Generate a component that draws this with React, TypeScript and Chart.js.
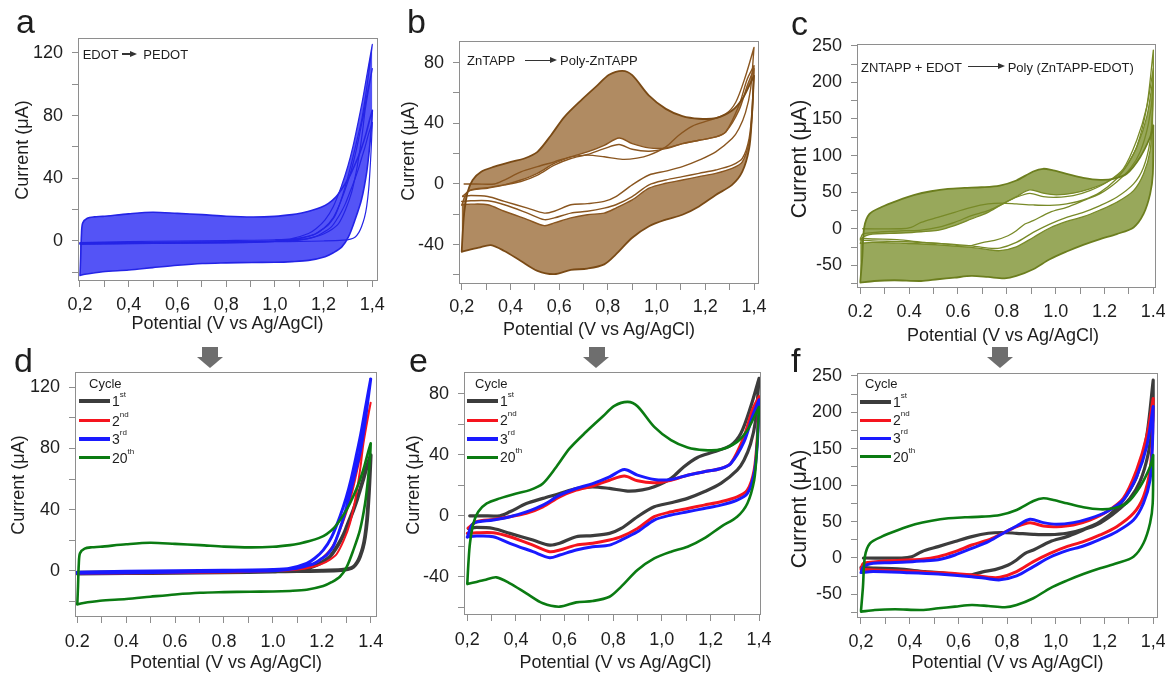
import React, { useEffect, useRef } from 'react';
import { Chart, registerables } from 'chart.js';

Chart.register(...registerables);

type Pt = [number, number];

// ---------------- data (potential V, current µA) ----------------
// Panel d / a : PEDOT
const D1F: Pt[] = [[0.2,-1.2],[0.4,-1],[0.6,-0.8],[0.8,-0.6],[1.0,-0.4],[1.1,-0.3],[1.2,0],[1.28,0.5],[1.31,1.2],[1.33,2.6],[1.345,5.5],[1.356,9.2],[1.368,15],[1.377,22.3],[1.385,33],[1.39,44],[1.395,58],[1.4,75.7]];
const D1R: Pt[] = [[0.2,-1.8],[0.4,-1.6],[0.6,-1.4],[0.8,-1.1],[1.0,-0.5],[1.05,0],[1.111,0.9],[1.15,2],[1.179,3.7],[1.21,6.5],[1.233,9.2],[1.255,14],[1.274,19],[1.29,24],[1.302,28.8],[1.315,34],[1.329,39.7],[1.343,46],[1.356,52.8],[1.37,60],[1.384,68],[1.4,75.7]];
const D2F: Pt[] = [[0.2,-1.5],[0.5,-1.2],[0.8,-0.8],[1.0,-0.2],[1.1,0.8],[1.16,2.5],[1.2,4.5],[1.235,7.5],[1.261,11],[1.29,20],[1.315,31],[1.335,45],[1.349,58],[1.36,70],[1.37,83],[1.385,97],[1.4,110]];
const D2R: Pt[] = [[0.2,-2],[0.5,-1.6],[0.8,-1.2],[1.0,-0.2],[1.1,1.5],[1.16,4],[1.2,8],[1.24,15],[1.27,25],[1.3,38],[1.325,52],[1.345,66],[1.365,82],[1.38,95],[1.4,110]];
const D3F: Pt[] = [[0.2,-1.7],[0.4,-1.3],[0.6,-0.9],[0.8,-0.5],[1.0,0],[1.07,1],[1.12,2.5],[1.165,4.5],[1.2,8],[1.22,10.3],[1.25,17],[1.288,34.3],[1.315,50],[1.335,63],[1.356,77],[1.37,90],[1.385,107],[1.4,125.5]];
const D3R: Pt[] = [[0.2,-1],[0.4,-0.4],[0.6,0],[0.8,0.3],[1.0,0.8],[1.07,1.6],[1.138,4.8],[1.17,8],[1.206,13.5],[1.24,22],[1.274,35.4],[1.3,48],[1.32,60],[1.343,76.8],[1.36,90],[1.38,108],[1.4,125.5]];
const D20F: Pt[] = [[0.2,-22],[0.203,-10],[0.206,4],[0.211,11.5],[0.23,14.5],[0.26,15.4],[0.293,15.7],[0.4,17.3],[0.498,18.3],[0.6,17.6],[0.702,16.8],[0.8,15.8],[0.906,15.3],[1.0,15.7],[1.07,16.8],[1.11,17.9],[1.15,19.4],[1.19,21.5],[1.22,24],[1.25,28],[1.274,33],[1.3,39.5],[1.315,44],[1.335,51],[1.356,59.4],[1.375,69],[1.39,78],[1.4,83.4]];
const D20R: Pt[] = [[0.2,-22],[0.22,-21.2],[0.293,-19.6],[0.4,-18.5],[0.498,-17],[0.6,-15.5],[0.702,-14.4],[0.8,-14],[0.906,-13.7],[1.0,-13.6],[1.07,-13.2],[1.138,-12.4],[1.206,-10],[1.24,-7.5],[1.274,-3.9],[1.302,2.6],[1.329,13.5],[1.356,26.6],[1.377,44],[1.39,61.5],[1.398,76],[1.4,83.4]];

// Panel e / b : Poly-ZnTAPP
const E1F: Pt[] = [[0.21,0],[0.26,0],[0.334,0],[0.375,2.6],[0.443,8],[0.511,11.4],[0.58,14.6],[0.648,17.9],[0.716,19],[0.785,17.9],[0.86,16.2],[0.92,17],[0.969,19],[1.038,24.5],[1.09,32],[1.147,38.2],[1.215,41.9],[1.284,46.2],[1.325,53.9],[1.365,71],[1.4,90]];
const E1R: Pt[] = [[0.204,-8.3],[0.238,-7.6],[0.307,-8.3],[0.375,-11.5],[0.47,-15.9],[0.539,-19.2],[0.58,-18],[0.648,-13.7],[0.716,-13],[0.785,-11.5],[0.833,-8.3],[0.9,-0.6],[0.969,5.9],[1.038,8.5],[1.106,11.4],[1.174,15.7],[1.243,21.2],[1.31,29.9],[1.338,36.4],[1.365,47],[1.386,62.6],[1.4,90]];
const E2F: Pt[] = [[0.204,-8],[0.238,-3.9],[0.307,-2.4],[0.375,-0.6],[0.443,1.6],[0.511,5.9],[0.58,12.4],[0.648,16.8],[0.716,19.4],[0.785,23.3],[0.846,26],[0.9,22.9],[0.969,21.6],[1.038,23.3],[1.106,26.6],[1.174,28.8],[1.243,31],[1.284,34.3],[1.338,51.7],[1.372,69],[1.4,78]];
const E2R: Pt[] = [[0.2,-11.5],[0.238,-11.1],[0.307,-11.1],[0.375,-13.7],[0.47,-19.2],[0.539,-23.5],[0.58,-22.4],[0.648,-19.2],[0.716,-18],[0.785,-15.9],[0.833,-13.7],[0.9,-8.3],[0.969,-0.6],[1.038,2.6],[1.106,4.8],[1.174,7],[1.243,9.2],[1.31,12.4],[1.352,16.8],[1.38,30],[1.393,51.7],[1.4,78]];
const E3F: Pt[] = [[0.2,-14],[0.225,-5],[0.307,-2.8],[0.375,-0.6],[0.443,2.6],[0.511,7],[0.58,13.5],[0.648,17.9],[0.716,21.1],[0.785,25.5],[0.846,30.3],[0.9,26.6],[0.969,23.8],[1.038,23.8],[1.106,26.6],[1.174,28.8],[1.243,31],[1.284,34.3],[1.338,48.4],[1.372,64.7],[1.4,76]];
const E3R: Pt[] = [[0.2,-13.7],[0.238,-13.3],[0.307,-13.7],[0.375,-18],[0.47,-23.5],[0.539,-27.5],[0.58,-25.7],[0.648,-22.4],[0.716,-20.3],[0.785,-19.2],[0.833,-15.9],[0.9,-10.5],[0.969,-2.8],[1.038,0.5],[1.106,2.6],[1.174,4.8],[1.243,7],[1.31,10.3],[1.352,14.6],[1.38,27.7],[1.393,47.3],[1.4,76]];
const E20F: Pt[] = [[0.2,-44.5],[0.205,-30],[0.211,-18],[0.225,-5],[0.245,2.6],[0.28,8.1],[0.334,11.4],[0.402,14.6],[0.457,16.8],[0.511,21.2],[0.566,32],[0.621,44.1],[0.689,55],[0.757,65],[0.805,72],[0.86,74.6],[0.9,71.7],[0.969,58.2],[1.038,49.5],[1.106,44.7],[1.174,43],[1.243,43.4],[1.31,48.4],[1.352,56],[1.38,64.7],[1.4,71.3]];
const E20R: Pt[] = [[0.2,-44.7],[0.27,-42],[0.32,-40.3],[0.375,-44.2],[0.443,-50.8],[0.511,-57.3],[0.58,-59.5],[0.648,-56.7],[0.716,-55.8],[0.785,-53],[0.833,-46.4],[0.9,-35.5],[0.969,-27.9],[1.038,-23.5],[1.106,-20.3],[1.174,-14.8],[1.243,-7.2],[1.31,-0.6],[1.352,8.1],[1.38,23.3],[1.39,40.8],[1.4,71.3]];

// Panel f / c : Poly(ZnTAPP-EDOT)
const F1F: Pt[] = [[0.21,0],[0.367,0],[0.408,1.8],[0.449,8.7],[0.517,15.6],[0.586,22.5],[0.655,29.3],[0.723,33.9],[0.778,35],[0.839,33.9],[0.908,32.5],[0.976,32],[1.045,33.9],[1.113,39.4],[1.182,49.8],[1.25,68.2],[1.291,86.5],[1.332,111.6],[1.373,166.5],[1.4,244]];
const F1R: Pt[] = [[0.2,-13],[0.257,-14],[0.35,-15],[0.463,-18.7],[0.55,-21],[0.614,-23.3],[0.655,-23],[0.7,-19],[0.75,-16],[0.805,-9.6],[0.839,-2.7],[0.874,6.4],[0.908,11],[0.976,22.4],[1.045,29.3],[1.113,38.4],[1.182,48],[1.25,64],[1.305,82],[1.346,105],[1.38,143.7],[1.398,189],[1.4,244]];
const F2F: Pt[] = [[0.2,-15],[0.21,-7.3],[0.25,-5.5],[0.319,-3.7],[0.387,-2.7],[0.449,-1.8],[0.517,1.8],[0.586,8.7],[0.655,17.8],[0.723,24.7],[0.771,32],[0.839,43],[0.894,48.4],[0.949,43.9],[1.003,43],[1.072,45.3],[1.14,52.1],[1.209,63.5],[1.277,81.9],[1.332,120.8],[1.373,166.5],[1.4,219]];
const F2R: Pt[] = [[0.2,-15.6],[0.25,-16.5],[0.387,-17.8],[0.517,-20.1],[0.655,-23.3],[0.723,-26.5],[0.771,-26.5],[0.839,-18.7],[0.908,-5],[0.976,6.4],[1.045,15.6],[1.113,22.4],[1.182,31.6],[1.25,43],[1.319,61.3],[1.36,84.1],[1.387,120.8],[1.397,166.5],[1.4,219]];
const F3F: Pt[] = [[0.2,-20],[0.21,-11.9],[0.25,-7.3],[0.319,-6.4],[0.387,-5.5],[0.449,-4.1],[0.517,-2.3],[0.586,4.1],[0.655,13.3],[0.723,22.4],[0.771,31.6],[0.839,43.9],[0.894,53.1],[0.949,48.5],[1.003,46.2],[1.072,48.5],[1.14,54.4],[1.209,63.5],[1.277,79.6],[1.332,111.6],[1.373,152.7],[1.4,208]];
const F3R: Pt[] = [[0.2,-20],[0.25,-18.7],[0.387,-20.1],[0.517,-22],[0.655,-25.6],[0.723,-28.4],[0.771,-30],[0.839,-24.7],[0.908,-11.9],[0.976,1],[1.045,10],[1.113,16.5],[1.182,25.6],[1.25,36.1],[1.319,52.1],[1.36,75.1],[1.387,107],[1.397,157.4],[1.4,208]];
const F20F: Pt[] = [[0.2,-72.3],[0.208,-40],[0.216,1.8],[0.237,20],[0.285,29.3],[0.353,38.4],[0.422,46.2],[0.49,51.2],[0.559,54.5],[0.627,55.8],[0.696,56.7],[0.771,59],[0.839,65.9],[0.908,78.2],[0.949,81.9],[0.99,79.6],[1.045,75.1],[1.113,69.6],[1.182,66.8],[1.236,68.2],[1.291,75.1],[1.346,97.8],[1.387,125.3],[1.4,141.3]];
const F20R: Pt[] = [[0.2,-73.7],[0.257,-71.4],[0.34,-70.4],[0.449,-71.4],[0.517,-69],[0.586,-66.8],[0.655,-64.5],[0.723,-65.9],[0.791,-67.7],[0.839,-64.5],[0.908,-55.3],[0.976,-41.6],[1.045,-31.1],[1.113,-22],[1.182,-14.1],[1.25,-7.3],[1.319,1.8],[1.36,20.2],[1.387,47.6],[1.398,75.1],[1.4,141.3]];

// ---------------- ticks & labels ----------------
const X_TICKS = [0.2, 0.3, 0.4, 0.5, 0.6, 0.7, 0.8, 0.9, 1.0, 1.1, 1.2, 1.3, 1.4];
const X_LABELS_COMMA = ['0,2', '', '0,4', '', '0,6', '', '0,8', '', '1,0', '', '1,2', '', '1,4'];
const X_LABELS_DOT = ['0.2', '', '0.4', '', '0.6', '', '0.8', '', '1.0', '', '1.2', '', '1.4'];
const Y_TICKS_AD = [-20, 0, 20, 40, 60, 80, 100, 120];
const Y_LABELS_AD = ['', '0', '', '40', '', '80', '', '120'];
const Y_TICKS_BE = [-60, -40, -20, 0, 20, 40, 60, 80];
const Y_LABELS_BE = ['', '-40', '', '0', '', '40', '', '80'];
const Y_TICKS_CF = [-75, -50, -25, 0, 25, 50, 75, 100, 125, 150, 175, 200, 225, 250];
const Y_LABELS_CF = ['', '-50', '', '0', '', '50', '', '100', '', '150', '', '200', '', '250'];

const X_TITLE = 'Potential (V vs Ag/AgCl)';
const Y_TITLE = 'Current (μA)';
const LEGEND_TITLE = 'Cycle';
const LEGEND_MAIN = ['1', '2', '3', '20'];
const LEGEND_SUP = ['st', 'nd', 'rd', 'th'];

// ---------------- styles ----------------
const FONT = '"Liberation Sans", Arial, Helvetica, sans-serif';
const TXT = '#1e1e1e';
const AXIS = '#8e8e8e';
const GRAY = '#3c3c3c';
const RED = '#f5141e';
const BLUE = '#1a1aff';
const GREEN = '#0b7b12';
const LEG_COLORS = [GRAY, RED, BLUE, GREEN];
const LEG_W = [4, 3, 3.5, 3];

const YW = 60, XH = 40, PT = 10, PR = 16;

const xy = (a: Pt[]) => a.map(([x, y]) => ({ x, y }));
const loop = (f: Pt[], r: Pt[]) => xy([...f, ...[...r].reverse()]);
const lineDs = (data: any[], color: string, width: number) => ({
  data, borderColor: color, borderWidth: width, pointRadius: 0, pointHoverRadius: 0,
  fill: false, tension: 0.3, borderJoinStyle: 'round', borderCapStyle: 'round',
});
const bandDs = (data: any[], color: string, target: number | false) => ({
  data, borderColor: 'rgba(0,0,0,0)', borderWidth: 0, backgroundColor: color,
  pointRadius: 0, pointHoverRadius: 0, fill: target, tension: 0.3,
});

const A_LINE = '#2424e6', A_FILL = '#5454f6';
const B_LINE = '#8a5620', B_OUT = '#7a4a15', B_FILL = 'rgba(146,94,38,0.72)';
const C_LINE = '#788a28', C_OUT = '#6c7e1e', C_FILL = 'rgba(126,146,50,0.8)';

const PANELS: any[] = [
  {
    frame: { l: 79, t: 39, r: 377, b: 280 }, x: [0.1959, 1.4192], y: [-24.9, 128.9],
    xLabels: X_LABELS_COMMA, yTicks: Y_TICKS_AD, yLabels: Y_LABELS_AD, xPad: 7,
    datasets: [
      lineDs(loop(D20F, D20R), A_LINE, 1.6), lineDs(loop(D3F, D3R), A_LINE, 1.2),
      lineDs(loop(D2F, D2R), A_LINE, 1.2), lineDs(loop(D1F, D1R), A_LINE, 1.2),
      bandDs(xy(D20F), A_FILL, 5), bandDs(xy(D20R), A_FILL, false),
      bandDs(xy(D3R), A_FILL, 7), bandDs(xy(D20F), A_FILL, false),
    ],
  },
  {
    frame: { l: 460, t: 42, r: 758, b: 283 }, x: [0.193, 1.4164], y: [-65.3, 93.6],
    xLabels: X_LABELS_COMMA, yTicks: Y_TICKS_BE, yLabels: Y_LABELS_BE, xPad: 6,
    datasets: [
      lineDs(loop(E20F, E20R), B_OUT, 1.8), lineDs(loop(E3F, E3R), B_LINE, 1.4),
      lineDs(loop(E2F, E2R), B_LINE, 1.4), lineDs(loop(E1F, E1R), B_LINE, 1.4),
      bandDs(xy(E20F), B_FILL, 5), bandDs(xy(E3F), B_FILL, false),
      bandDs(xy(E3R), B_FILL, 7), bandDs(xy(E20R), B_FILL, false),
    ],
  },
  {
    frame: { l: 858, t: 45, r: 1155, b: 287 }, x: [0.1906, 1.4068], y: [-79.6, 251],
    xLabels: X_LABELS_DOT, yTicks: Y_TICKS_CF, yLabels: Y_LABELS_CF, xPad: 7,
    datasets: [
      lineDs(loop(F20F, F20R), C_OUT, 1.8), lineDs(loop(F3F, F3R), C_LINE, 1.3),
      lineDs(loop(F2F, F2R), C_LINE, 1.3), lineDs(loop(F1F, F1R), C_LINE, 1.3),
      bandDs(xy(F20F), C_FILL, 5), bandDs(xy(F3F), C_FILL, false),
      bandDs(xy(F3R), C_FILL, 7), bandDs(xy(F20R), C_FILL, false),
    ],
  },
  {
    frame: { l: 76, t: 373, r: 376, b: 616 }, x: [0.1947, 1.4217], y: [-29.6, 129.4],
    xLabels: X_LABELS_DOT, yTicks: Y_TICKS_AD, yLabels: Y_LABELS_AD, xPad: 8,
    datasets: [
      lineDs(loop(D20F, D20R), GREEN, 2.6), lineDs(loop(D3F, D3R), BLUE, 3),
      lineDs(loop(D2F, D2R), RED, 2), lineDs(loop(D1F, D1R), GRAY, 3.8),
    ],
  },
  {
    frame: { l: 465, t: 373, r: 760, b: 614 }, x: [0.1906, 1.404], y: [-64.3, 93.5],
    xLabels: X_LABELS_COMMA, yTicks: Y_TICKS_BE, yLabels: Y_LABELS_BE, xPad: 8,
    datasets: [
      lineDs(loop(E20F, E20R), GREEN, 2.6), lineDs(loop(E3F, E3R), BLUE, 3),
      lineDs(loop(E2F, E2R), RED, 3), lineDs(loop(E1F, E1R), GRAY, 3.2),
    ],
  },
  {
    frame: { l: 858, t: 374, r: 1157, b: 617 }, x: [0.1877, 1.4156], y: [-81, 252.5],
    xLabels: X_LABELS_COMMA, yTicks: Y_TICKS_CF, yLabels: Y_LABELS_CF, xPad: 7,
    datasets: [
      lineDs(loop(F20F, F20R), GREEN, 2.6), lineDs(loop(F3F, F3R), BLUE, 3),
      lineDs(loop(F2F, F2R), RED, 3), lineDs(loop(F1F, F1R), GRAY, 3.2),
    ],
  },
];

const framePlugin = {
  id: 'frameRect',
  afterDatasetsDraw(chart: any) {
    const { ctx, chartArea: a } = chart;
    ctx.save();
    ctx.strokeStyle = AXIS;
    ctx.lineWidth = 1;
    ctx.strokeRect(a.left - 0.5, a.top - 0.5, a.right - a.left + 1, a.bottom - a.top + 1);
    ctx.restore();
  },
};

function ChartPanel({ p }: { p: any }) {
  const ref = useRef<HTMLCanvasElement | null>(null);
  const left = p.frame.l - YW;
  const top = p.frame.t - PT;
  const width = p.frame.r - p.frame.l + YW + PR;
  const height = p.frame.b - p.frame.t + PT + XH;
  useEffect(() => {
    if (!ref.current) return;
    const tickFont = { family: FONT, size: 18 };
    const chart = new Chart(ref.current, {
      type: 'line',
      data: { datasets: p.datasets },
      options: {
        animation: false,
        responsive: false,
        events: [],
        layout: { autoPadding: false, padding: { top: PT, right: PR, left: 0, bottom: 0 } },
        plugins: { legend: { display: false }, tooltip: { enabled: false }, title: { display: false } },
        scales: {
          x: {
            type: 'linear', min: p.x[0], max: p.x[1],
            afterBuildTicks: (s: any) => { s.ticks = X_TICKS.map((v) => ({ value: v })); },
            afterFit: (s: any) => { s.height = XH; s.paddingLeft = 0; s.paddingRight = 0; },
            ticks: {
              autoSkip: false, maxRotation: 0, minRotation: 0, padding: p.xPad, color: TXT, font: tickFont,
              callback: (_v: any, i: number) => p.xLabels[i],
            },
            grid: { drawOnChartArea: false, drawTicks: true, tickLength: 7, color: AXIS, lineWidth: 1 },
            border: { display: false },
          },
          y: {
            type: 'linear', min: p.y[0], max: p.y[1],
            afterBuildTicks: (s: any) => { s.ticks = p.yTicks.map((v: number) => ({ value: v })); },
            afterFit: (s: any) => { s.width = YW; s.paddingTop = 0; s.paddingBottom = 0; },
            ticks: {
              autoSkip: false, padding: 9, color: TXT, font: tickFont,
              callback: (_v: any, i: number) => p.yLabels[i],
            },
            grid: { drawOnChartArea: false, drawTicks: true, tickLength: 7, color: AXIS, lineWidth: 1 },
            border: { display: false },
          },
        },
      } as any,
      plugins: [framePlugin],
    } as any);
    return () => chart.destroy();
  }, []);
  return (
    <canvas ref={ref} width={width} height={height}
      style={{ position: 'absolute', left, top, width, height }} />
  );
}

const abs = (s: any) => ({ position: 'absolute', whiteSpace: 'nowrap', lineHeight: 1, ...s });

function CText({ x, y, size, children }: any) {
  return <div style={abs({ left: x, top: y, fontSize: size, transform: 'translate(-50%,-50%)' })}>{children}</div>;
}
function YTitle({ x, y, size }: any) {
  return <div style={abs({ left: x, top: y, fontSize: size, transform: 'translate(-50%,-50%) rotate(-90deg)' })}>{Y_TITLE}</div>;
}
function LText({ x, y, size, children }: any) {
  return <div style={abs({ left: x, top: y, fontSize: size, transform: 'translateY(-50%)' })}>{children}</div>;
}
function Letter({ x, base, ch }: any) {
  return <div style={abs({ left: x, top: base - 28.8, fontSize: 34 })}>{ch}</div>;
}
function ThinArrow({ x1, x2, y, th }: any) {
  return (
    <>
      <div style={abs({ left: x1, top: y - th / 2, width: x2 - x1 - 6, height: th, background: '#333' })} />
      <div style={abs({ left: x2 - 7, top: y - 3.5, width: 0, height: 0, borderLeft: '7px solid #333', borderTop: '3.5px solid transparent', borderBottom: '3.5px solid transparent' })} />
    </>
  );
}
function DownArrow({ cx }: any) {
  return (
    <>
      <div style={abs({ left: cx - 8, top: 347, width: 16, height: 10, background: '#6e6e6e' })} />
      <div style={abs({ left: cx - 13.5, top: 357, width: 0, height: 0, borderLeft: '13.5px solid transparent', borderRight: '13.5px solid transparent', borderTop: '11px solid #6e6e6e' })} />
    </>
  );
}
function Legend({ titleX, lineX, ys }: any) {
  return (
    <>
      <div style={abs({ left: titleX, top: 377, fontSize: 13 })}>{LEGEND_TITLE}</div>
      {LEGEND_MAIN.map((m, i) => (
        <div key={i} style={abs({ left: lineX, top: ys[i] - 10, height: 20, display: 'flex', alignItems: 'center' })}>
          <div style={{ width: 31, height: LEG_W[i], background: LEG_COLORS[i] }} />
          <span style={{ fontSize: 14, lineHeight: 1, marginLeft: 2 }}>
            {m}<span style={{ fontSize: 8, position: 'relative', top: -9 }}>{LEGEND_SUP[i]}</span>
          </span>
        </div>
      ))}
    </>
  );
}

export default function App() {
  useEffect(() => { document.body.style.margin = '0'; }, []);
  return (
    <div style={{ position: 'absolute', left: 0, top: 0, width: 1165, height: 674, overflow: 'hidden', background: '#fff', fontFamily: FONT, color: TXT }}>
      {PANELS.map((p, i) => <ChartPanel key={i} p={p} />)}

      <Letter x={16} base={33} ch="a" />
      <Letter x={407} base={33} ch="b" />
      <Letter x={791} base={35} ch="c" />
      <Letter x={14} base={372} ch="d" />
      <Letter x={409} base={372} ch="e" />
      <Letter x={791} base={372} ch="f" />

      <YTitle x={21.5} y={150} size={18} />
      <YTitle x={407.5} y={151} size={18} />
      <YTitle x={799.5} y={159} size={21.5} />
      <YTitle x={17.5} y={485} size={18} />
      <YTitle x={412.5} y={484.5} size={18} />
      <YTitle x={799.5} y={508.5} size={21.5} />

      <CText x={227.5} y={323} size={18}>{X_TITLE}</CText>
      <CText x={599} y={329} size={18}>{X_TITLE}</CText>
      <CText x={1003} y={335} size={18}>{X_TITLE}</CText>
      <CText x={226} y={661.5} size={18}>{X_TITLE}</CText>
      <CText x={615.5} y={661.5} size={18}>{X_TITLE}</CText>
      <CText x={1007.5} y={661.5} size={18}>{X_TITLE}</CText>

      <LText x={82.7} y={54.3} size={13}>EDOT</LText>
      <ThinArrow x1={121.7} x2={137} y={54.3} th={2} />
      <LText x={143.3} y={54.3} size={13}>PEDOT</LText>

      <LText x={467} y={60} size={13}>ZnTAPP</LText>
      <ThinArrow x1={525} x2={557} y={60} th={1} />
      <LText x={560} y={60} size={13}>Poly-ZnTAPP</LText>

      <LText x={861} y={66.7} size={13}>ZNTAPP + EDOT</LText>
      <ThinArrow x1={967.7} x2={1005} y={66.7} th={1} />
      <LText x={1007.7} y={66.7} size={13}>Poly (ZnTAPP-EDOT)</LText>

      <DownArrow cx={210} />
      <DownArrow cx={596.5} />
      <DownArrow cx={1000} />

      <Legend titleX={89} lineX={79} ys={[401, 420.7, 439, 457.7]} />
      <Legend titleX={475} lineX={467} ys={[401, 420, 439, 457.3]} />
      <Legend titleX={865} lineX={860} ys={[401.7, 420, 438.3, 456.7]} />
    </div>
  );
}
